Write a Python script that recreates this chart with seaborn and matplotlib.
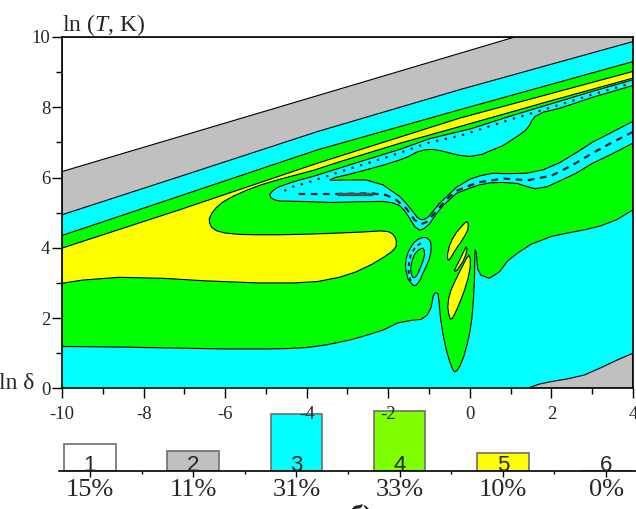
import numpy as np
import pandas as pd
import seaborn as sns
import matplotlib
matplotlib.use("Agg")
import matplotlib.pyplot as plt
from matplotlib.ticker import MultipleLocator

# --- map boundaries, x = ln(delta), y = ln(T, K) ---
white_gray_x = [-10, 1.1]
white_gray_y = [6.17, 10.0]
gray_cyan_x = [-10, -7, -3.73, -0.25, 4]
gray_cyan_y = [4.94, 6.07, 7.31, 8.5, 9.87]
cyan_green_x = [-10, -7.12, -3.73, -0.25, 4]
cyan_green_y = [4.35, 5.47, 6.79, 7.93, 9.3]
green_yellow_x = [-10, -7.12, -3.73, -0.25, 4]
green_yellow_y = [3.99, 5.08, 6.41, 7.69, 9.02]

# lower edge of the big green region (cyan below it)
green_low_x = [-10, -9, -8.35, -7, -6, -5, -4.5, -4.0, -3.5, -2.92, -2.5, -2.1, -1.77, -1.4, -1.2,
               -1.05, -0.95, -0.9, -0.85, -0.78, -0.76, -0.72, -0.66, -0.58, -0.5, -0.43, -0.38,
               -0.32, -0.25, -0.15, -0.06, 0.0, 0.05, 0.08, 0.11, 0.12,
               0.13, 0.16, 0.19, 0.27, 0.48, 0.73, 0.92, 1.17, 1.5, 1.99, 2.4, 2.8, 3.2, 3.6, 4]
green_low_y = [1.19, 1.18, 1.17, 1.14, 1.12, 1.12, 1.13, 1.16, 1.24, 1.38, 1.52, 1.67, 1.86, 1.94, 1.96,
               2.08, 2.3, 2.62, 2.72, 2.7, 2.5, 2.0, 1.55, 1.1, 0.78, 0.56, 0.47,
               0.5, 0.62, 0.9, 1.28, 1.6, 2.0, 2.4, 3.0, 3.6,
               3.95, 3.85, 3.4, 3.22, 3.13, 3.32, 3.62, 3.85, 4.1, 4.32, 4.42, 4.51, 4.62, 4.8, 5.08]

# yellow: band bottom / green blob top (right to left), blob bottom, yellow lower edge
blob_top_x = [4, 2, -0.25, -1.7, -3.19, -3.85, -4.66, -5.1, -5.47, -5.8, -6.06, -6.22, -6.33, -6.39]
blob_top_y = [8.83, 8.19, 7.45, 6.98, 6.45, 6.2, 5.95, 5.8, 5.64, 5.47, 5.3, 5.14, 4.98, 4.82]
blob_bot_x = [-6.38, -6.33, -6.2, -6.0, -5.65, -5.2, -4.67, -3.9, -3.2, -2.6, -2.2, -2.0, -1.9, -1.83, -1.8]
blob_bot_y = [4.7, 4.58, 4.48, 4.42, 4.38, 4.37, 4.37, 4.39, 4.42, 4.45, 4.48, 4.46, 4.4, 4.3, 4.17]
yellow_low_x = [-1.81, -1.86, -1.95, -2.1, -2.4, -2.8, -3.2, -3.73, -4.3, -5.2, -6.5, -7.5, -8.6, -9.5, -10]
yellow_low_y = [4.05, 3.95, 3.86, 3.74, 3.53, 3.31, 3.16, 3.04, 3.0, 3.0, 3.06, 3.13, 3.16, 3.08, 2.99]

# cyan ribbon under the yellow band
ribbon_top_x = [-4.91, -4.85, -4.78, -4.67, -4.4, -4.17, -3.85, -3.19, -2.5, -1.72, -1.0, 0.0, 1.0, 2.0, 3.0, 4.0]
ribbon_top_y = [5.51, 5.6, 5.67, 5.74, 5.85, 5.93, 6.03, 6.27, 6.52, 6.8, 7.1, 7.38, 7.75, 8.1, 8.45, 8.78]
ribbon_bot_x = [4.0, 3.5, 3.0, 2.6, 2.2, 1.9, 1.6, 1.35, 1.17, 0.8, 0.5, 0.2, 0.0, -0.33, -0.66, -0.85,
                -0.99, -1.12, -1.23, -1.35, -1.48, -1.6, -1.72, -1.9, -2.13, -2.7, -3.36, -4.17, -4.66,
                -4.8, -4.88]
ribbon_bot_y = [6.98, 6.68, 6.4, 6.12, 5.9, 5.74, 5.68, 5.76, 5.83, 5.86, 5.85, 5.78, 5.7, 5.55, 5.2, 4.92,
                4.68, 4.55, 4.5, 4.6, 4.85, 5.05, 5.2, 5.28, 5.32, 5.31, 5.29, 5.32, 5.33, 5.37, 5.43]

# green tongue inside the ribbon
island_top_x = [-3.44, -3.3, -3.0, -2.54, -2.1, -1.72, -1.5, -1.31, -1.1, -0.91, -0.7, -0.5, -0.25, 0.0,
                0.3, 0.56, 0.8, 1.0, 1.2, 1.38, 1.47, 1.52, 1.6, 1.8, 2.2, 3.0, 4.0]
island_top_y = [5.93, 6.0, 6.08, 6.22, 6.36, 6.5, 6.6, 6.72, 6.79, 6.8, 6.76, 6.7, 6.63, 6.6,
                6.66, 6.79, 6.9, 7.05, 7.2, 7.36, 7.5, 7.62, 7.74, 7.86, 7.97, 8.28, 8.62]
island_bot_x = [4.0, 3.5, 3.0, 2.6, 2.2, 1.8, 1.38, 0.9, 0.56, 0.25, 0.0, -0.33, -0.74, -1.0, -1.1, -1.15,
                -1.22, -1.3, -1.4, -1.55, -1.72, -2.13, -2.54, -3.0, -3.3]
island_bot_y = [7.6, 7.3, 7.0, 6.7, 6.42, 6.22, 6.12, 6.11, 6.12, 6.05, 5.95, 5.72, 5.27, 4.9, 4.82, 4.8,
                4.81, 4.88, 5.03, 5.25, 5.46, 5.79, 5.93, 5.93, 5.92]

# small features around ln(delta) ~ -1
ring_out_x = [-0.99, -1.07, -1.17, -1.27, -1.37, -1.44, -1.51, -1.56, -1.58, -1.56, -1.52, -1.44,
              -1.37, -1.31, -1.22, -1.15, -1.07, -1.0, -0.96, -0.95, -0.96]
ring_out_y = [4.22, 4.29, 4.29, 4.24, 4.15, 4.03, 3.88, 3.7, 3.5, 3.32, 3.12, 2.99,
              2.92, 2.94, 3.08, 3.28, 3.47, 3.66, 3.85, 4.03, 4.14]
ring_in_x = [-1.15, -1.23, -1.3, -1.36, -1.41, -1.44, -1.45, -1.44, -1.4, -1.35, -1.31, -1.26,
             -1.22, -1.17, -1.13, -1.11, -1.12]
ring_in_y = [3.99, 3.96, 3.89, 3.8, 3.66, 3.51, 3.4, 3.28, 3.16, 3.15, 3.2, 3.3,
             3.42, 3.56, 3.7, 3.82, 3.93]
lobe_a_x = [-0.54, -0.55, -0.5, -0.42, -0.32, -0.21, -0.13, -0.07, -0.04, -0.05, -0.12, -0.21, -0.3, -0.38, -0.45, -0.5]
lobe_a_y = [3.66, 3.8, 4.06, 4.27, 4.45, 4.6, 4.7, 4.75, 4.68, 4.51, 4.35, 4.18, 4.03, 3.89, 3.75, 3.66]
lobe_b_x = [-0.38, -0.34, -0.29, -0.23, -0.17, -0.12, -0.09, -0.07, -0.1, -0.17, -0.25, -0.32, -0.36]
lobe_b_y = [3.35, 3.45, 3.56, 3.7, 3.85, 3.96, 4.03, 3.96, 3.8, 3.61, 3.47, 3.36, 3.33]
lobe_c_x = [-0.48, -0.52, -0.54, -0.52, -0.46, -0.36, -0.25, -0.15, -0.07, -0.02, 0.01, 0.01,
            -0.04, -0.13, -0.21, -0.29, -0.37, -0.43]
lobe_c_y = [1.97, 2.12, 2.32, 2.55, 2.8, 3.06, 3.32, 3.55, 3.72, 3.8, 3.68, 3.46,
            3.15, 2.8, 2.55, 2.32, 2.12, 1.99]
corner_x = [1.41, 1.7, 1.99, 2.4, 2.81, 3.2, 3.62, 4.0, 4.0]
corner_y = [0.0, 0.12, 0.19, 0.27, 0.38, 0.58, 0.81, 1.0, 0.0]

# dashed / dotted inner contours
dots_x = [-4.55, -4.4, -4.0, -2.95, -1.97, -0.99, -0.2, 0.8, 2.0, 3.0, 4.0]
dots_y = [5.62, 5.72, 5.85, 6.25, 6.6, 7.0, 7.2, 7.58, 8.0, 8.36, 8.7]
dash_x = [-4.2, -3.4, -2.41, -2.05, -1.8, -1.56, -1.36, -1.2, -1.05, -0.82, -0.58, -0.33,
          0.19, 0.84, 1.41, 2.0, 2.48, 3.05, 3.46, 4.0]
dash_y = [5.53, 5.53, 5.55, 5.5, 5.36, 5.12, 4.8, 4.67, 4.74, 5.05, 5.37, 5.62,
          5.86, 5.97, 5.92, 6.05, 6.33, 6.72, 6.98, 7.3]
long_dash_x = [-3.24, -2.41]
long_dash_y = [5.53, 5.53]
ring_dash_x = [-1.2, -1.33, -1.45, -1.5, -1.5, -1.45]
ring_dash_y = [4.13, 4.03, 3.8, 3.5, 3.25, 3.05]

# --- class shares shown under the map ---
classes = ['1', '2', '3', '4', '5', '6']
shares = [15, 11, 31, 33, 10, 0]
bar_colors = ['#ffffff', '#c0c0c0', '#00ffff', '#80ff00', '#ffff00', '#ffffff']

CYAN, GREEN, YELLOW, GRAY = '#00ffff', '#00ff00', '#ffff00', '#c0c0c0'

sns.set_style("ticks")
plt.rcParams['font.family'] = ['Liberation Serif', 'DejaVu Serif']
plt.rcParams['axes.unicode_minus'] = False
plt.rcParams['mathtext.fontset'] = 'custom'
plt.rcParams['mathtext.rm'] = 'Liberation Serif'
plt.rcParams['mathtext.it'] = 'Liberation Serif:italic'

fig = plt.figure(figsize=(6.36, 5.09), dpi=100)
ax = fig.add_axes([62 / 636, 120.7 / 509, 571 / 636, 351.3 / 509])
ax.set_facecolor(CYAN)


def region(xs, ys, color, z):
    ax.fill(xs, ys, facecolor=color, edgecolor='black', linewidth=0.8, zorder=z)


region(gray_cyan_x + [4, -10], gray_cyan_y + [10, 10], GRAY, 1)
region(white_gray_x + [-10], white_gray_y + [10], 'white', 2)
region(green_low_x + cyan_green_x[::-1], green_low_y + cyan_green_y[::-1], GREEN, 3)
region(corner_x, corner_y, GRAY, 4)
region(green_yellow_x + blob_top_x + blob_bot_x + yellow_low_x,
       green_yellow_y + blob_top_y + blob_bot_y + yellow_low_y, YELLOW, 5)
region(ribbon_top_x + ribbon_bot_x, ribbon_top_y + ribbon_bot_y, CYAN, 6)
region(island_top_x + island_bot_x, island_top_y + island_bot_y, GREEN, 7)
region(ring_out_x, ring_out_y, CYAN, 8)
region(ring_in_x, ring_in_y, GREEN, 9)
for lx, ly in [(lobe_a_x, lobe_a_y), (lobe_b_x, lobe_b_y), (lobe_c_x, lobe_c_y)]:
    region(lx, ly, YELLOW, 10)

ax.plot(dots_x, dots_y, color='#202020', lw=1.6, ls=(0, (1, 3)), zorder=11)
ax.plot(dash_x, dash_y, color='#202020', lw=1.6, ls=(0, (3, 2.5)), zorder=11)
ax.plot(ring_dash_x, ring_dash_y, color='#202020', lw=1.4, ls=(0, (2, 2)), zorder=11)
ax.plot(long_dash_x, long_dash_y, color='#505050', lw=2.4, solid_capstyle='round', zorder=11)

ax.set_xlim(-10, 4)
ax.set_ylim(0, 10)
ax.xaxis.set_major_locator(MultipleLocator(2))
ax.xaxis.set_minor_locator(MultipleLocator(1))
ax.yaxis.set_major_locator(MultipleLocator(2))
ax.yaxis.set_minor_locator(MultipleLocator(1))
ax.tick_params(which='major', direction='out', length=7, width=1, labelsize=13.5, color='black')
ax.tick_params(which='minor', direction='out', length=4, width=1, color='black')
ax.tick_params(axis='x', which='major', pad=6)
ax.tick_params(axis='y', which='major', pad=1.5)
for s in ax.spines.values():
    s.set_linewidth(1.2)
    s.set_color('black')
    s.set_zorder(20)
ax.set_xlabel('')
ax.set_ylabel('')
ax.set_zorder(2)

fig.text(62 / 636, (509 - 31) / 509, r'ln ($T$, K)', fontsize=17, va='baseline', ha='left')
fig.text(-1 / 636, (509 - 389) / 509, 'ln δ', fontsize=17, va='baseline', ha='left')

# --- bar legend with class shares ---
lax = fig.add_axes([59 / 636, 38 / 509, 578 / 636, 64 / 509])
lax.set_zorder(1)
lax.patch.set_alpha(0)
legend_df = pd.DataFrame({'cls': classes, 'share': shares})
sns.barplot(data=legend_df, x='cls', y='share', hue='cls', palette=bar_colors, saturation=1,
            width=0.5, edgecolor='#6e6e6e', linewidth=1.2, legend=False, ax=lax)
lax.set_xlim(-0.3, 5.3)
lax.set_ylim(0, 35)
lax.set_yticks([])
lax.set_xticks(range(len(classes)))
lax.set_xticklabels([f'{s}%' for s in shares], fontsize=19)
lax.set_xticks(np.arange(0.5, len(classes) - 1, 1), minor=True)
lax.tick_params(axis='x', which='major', direction='out', length=4, width=1, pad=2, color='black')
lax.tick_params(axis='x', which='minor', direction='out', length=2, width=1, color='black')
lax.set_xlabel('')
lax.set_ylabel('')
sns.despine(ax=lax, left=True)
lax.spines['bottom'].set_linewidth(1.2)
lax.spines['bottom'].set_color('black')
for i, c in enumerate(classes):
    lax.text(i, 0, c, ha='center', va='baseline', fontsize=16, family='Liberation Sans', zorder=5)

fig.text(350 / 636, -14 / 509, 'б)', fontsize=20, fontweight='bold', va='baseline', ha='left')

fig.savefig('out.png', dpi=100)
